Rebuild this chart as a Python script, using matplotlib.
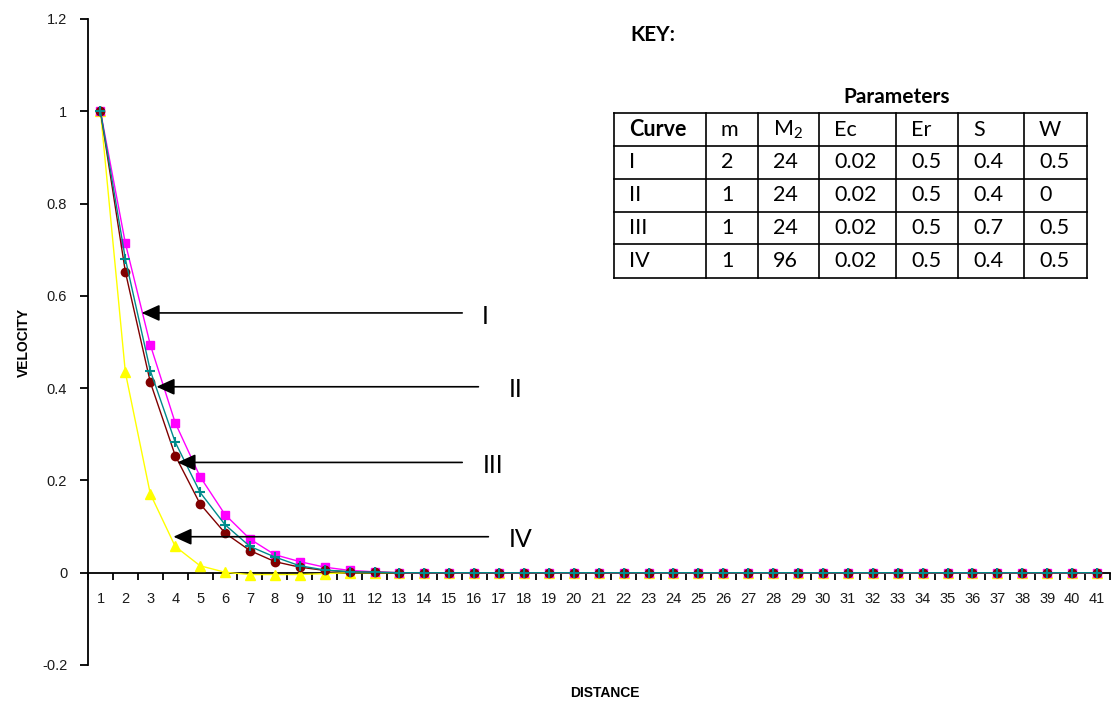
import matplotlib
matplotlib.use("Agg")
import matplotlib.pyplot as plt

plt.rcParams['font.family'] = ['Liberation Sans', 'DejaVu Sans']

distance = list(range(1, 42))

curve_1 = [1.0, 0.714, 0.494, 0.325, 0.208, 0.126, 0.073, 0.039, 0.024, 0.012,
           0.005, 0.002, 0.0, 0.0, 0.0, 0.0, 0.0, 0.0, 0.0, 0.0,
           0.0, 0.0, 0.0, 0.0, 0.0, 0.0, 0.0, 0.0, 0.0, 0.0,
           0.0, 0.0, 0.0, 0.0, 0.0, 0.0, 0.0, 0.0, 0.0, 0.0, 0.0]
curve_2 = [1.0, 0.652, 0.413, 0.254, 0.149, 0.086, 0.048, 0.024, 0.012, 0.005,
           0.002, 0.001, 0.0, 0.0, 0.0, 0.0, 0.0, 0.0, 0.0, 0.0,
           0.0, 0.0, 0.0, 0.0, 0.0, 0.0, 0.0, 0.0, 0.0, 0.0,
           0.0, 0.0, 0.0, 0.0, 0.0, 0.0, 0.0, 0.0, 0.0, 0.0, 0.0]
curve_3 = [1.0, 0.680, 0.438, 0.283, 0.174, 0.104, 0.057, 0.034, 0.015, 0.006,
           0.002, 0.001, 0.0, 0.0, 0.0, 0.0, 0.0, 0.0, 0.0, 0.0,
           0.0, 0.0, 0.0, 0.0, 0.0, 0.0, 0.0, 0.0, 0.0, 0.0,
           0.0, 0.0, 0.0, 0.0, 0.0, 0.0, 0.0, 0.0, 0.0, 0.0, 0.0]
curve_4 = [1.0, 0.434, 0.171, 0.057, 0.015, 0.001, -0.004, -0.004, -0.004, -0.002,
           0.0, 0.0, 0.0, 0.0, 0.0, 0.0, 0.0, 0.0, 0.0, 0.0,
           0.0, 0.0, 0.0, 0.0, 0.0, 0.0, 0.0, 0.0, 0.0, 0.0,
           0.0, 0.0, 0.0, 0.0, 0.0, 0.0, 0.0, 0.0, 0.0, 0.0, 0.0]

# arrow labels: tip x, tail x, y, label x
arrow_labels = ["I", "II", "III", "IV"]
arrow_tip_x = [2.65, 3.25, 4.09, 3.93]
arrow_tail_x = [15.52, 16.17, 15.52, 16.57]
arrow_y = [0.563, 0.403, 0.239, 0.078]
label_x = [16.45, 17.65, 16.75, 17.85]

table_header = ["Curve", "m", "M$_\\mathregular{2}$", "Ec", "Er", "S", "W"]
table_rows = [
    ["I", "2", "24", "0.02", "0.5", "0.4", "0.5"],
    ["II", "1", "24", "0.02", "0.5", "0.4", "0"],
    ["III", "1", "24", "0.02", "0.5", "0.7", "0.5"],
    ["IV", "1", "96", "0.02", "0.5", "0.4", "0.5"],
]

fig = plt.figure(figsize=(11.17, 7.06), dpi=100)
ax = fig.add_axes([88 / 1117, 41 / 706, (1109.5 - 88) / 1117, (665 - 19) / 706])

ax.plot(distance, curve_4, color="#FFFF00", lw=1, marker="^", ms=6.5, zorder=3)
ax.plot(distance, curve_1, color="#FF00FF", lw=1, marker="s", ms=6, zorder=4)
ax.plot(distance, curve_2, color="#800000", lw=1, marker="o", ms=6, zorder=5)
ax.plot(distance, curve_3, color="#008B8B", lw=1, marker="+", ms=7, mew=1.5, zorder=6)

ax.set_xlim(0.5, 41.5)
ax.set_ylim(-0.2, 1.2)
ax.set_yticks([-0.2, 0, 0.2, 0.4, 0.6, 0.8, 1.0, 1.2])
ax.set_yticklabels(["-0.2", "0", "0.2", "0.4", "0.6", "0.8", "1", "1.2"])
ax.set_xticks([i + 0.5 for i in range(0, 42)])
ax.set_xticklabels([])
for x in distance:
    ax.text(x, -0.057, str(x), ha="center", va="center", fontsize=10.5, color="#1a1a1a")

ax.spines["top"].set_visible(False)
ax.spines["right"].set_visible(False)
ax.spines["bottom"].set_position(("data", 0))
ax.spines["left"].set_linewidth(1.3)
ax.spines["bottom"].set_linewidth(1.3)
ax.tick_params(axis="y", direction="out", length=6, width=1.3, labelsize=10.5, pad=9,
               labelcolor="#1a1a1a")
ax.tick_params(axis="x", direction="out", length=5, width=1.3)

ax.set_ylabel("VELOCITY", fontsize=10, fontweight="bold")
ax.yaxis.set_label_coords(-0.056, 0.5)
fig.text(605 / 1117, 1 - 693 / 706, "DISTANCE", ha="center", va="center",
         fontsize=10, fontweight="bold")

for name, tx, sx, y, lx in zip(arrow_labels, arrow_tip_x, arrow_tail_x, arrow_y, label_x):
    ax.annotate("", xy=(tx, y), xytext=(sx, y),
                arrowprops=dict(arrowstyle="-|>,head_length=1.1,head_width=0.5",
                                color="black", lw=1.2, shrinkA=0, shrinkB=0),
                zorder=7)
    ax.text(lx, y - 0.007, name, ha="center", va="center", fontsize=18, family="Lato")

# key table on a pixel-space overlay
ov = fig.add_axes([0, 0, 1, 1], facecolor="none")
ov.set_xlim(0, 1117)
ov.set_ylim(706, 0)
ov.axis("off")

col_edges = [614, 706, 757.7, 819.3, 896, 958.3, 1024, 1087.3]
row_edges = [113.3, 146, 179, 211.7, 244.3, 277.7]

ov.text(630, 35, "KEY:", fontsize=15, fontweight="bold", family="Lato", va="center")
ov.text(896.7, 97, "Parameters", fontsize=15, fontweight="bold", family="Lato",
        ha="center", va="center")
for x in col_edges:
    ov.plot([x, x], [row_edges[0], row_edges[-1]], color="black", lw=1.2)
for y in row_edges:
    ov.plot([col_edges[0], col_edges[-1]], [y, y], color="black", lw=1.2)

all_rows = [table_header] + table_rows
for r, row in enumerate(all_rows):
    yc = (row_edges[r] + row_edges[r + 1]) / 2
    for c, txt in enumerate(row):
        ov.text(col_edges[c] + 15, yc, txt, fontsize=15.5, family="Lato", va="center",
                fontweight="bold" if (r == 0 and c == 0) else "normal")

fig.savefig("out.png", dpi=100)
